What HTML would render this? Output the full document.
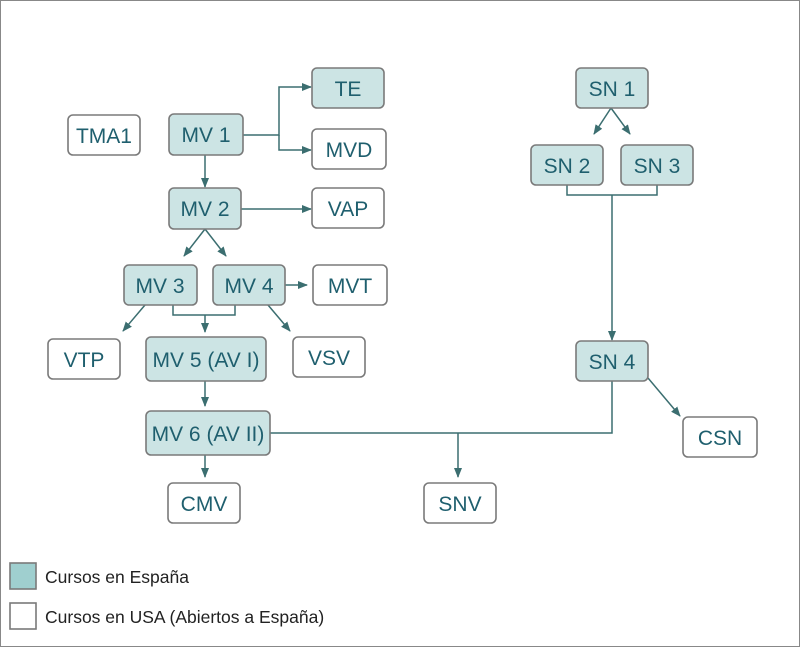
<!DOCTYPE html>
<html><head><style>
body{margin:0;width:800px;height:647px;background:#fff;overflow:hidden}
</style></head><body>
<svg width="800" height="647" xmlns="http://www.w3.org/2000/svg" style="font-family:'Liberation Sans',sans-serif">
<defs><marker id="a" markerWidth="10" markerHeight="8" refX="9" refY="4" orient="auto" markerUnits="userSpaceOnUse"><path d="M0,0L10,4L0,8z" fill="#3b6e70"/></marker></defs>
<rect x="0.5" y="0.5" width="799" height="646" fill="#fff" stroke="#888"/>
<g stroke="#3b6e70" stroke-width="1.5" fill="none">
<path d="M243,135H279V87H311" marker-end="url(#a)"/>
<path d="M279,135V150H311" marker-end="url(#a)"/>
<path d="M205,155V187" marker-end="url(#a)"/>
<path d="M241,209H311" marker-end="url(#a)"/>
<path d="M205,229L184,256" marker-end="url(#a)"/>
<path d="M205,229L226,256" marker-end="url(#a)"/>
<path d="M145,305L123,331" marker-end="url(#a)"/>
<path d="M173,305V315H235V305" />
<path d="M205,315V332" marker-end="url(#a)"/>
<path d="M268,305L290,331" marker-end="url(#a)"/>
<path d="M285,285H307" marker-end="url(#a)"/>
<path d="M205,381V406" marker-end="url(#a)"/>
<path d="M270,433H612V381"/>
<path d="M458,433V477" marker-end="url(#a)"/>
<path d="M205,455V477" marker-end="url(#a)"/>
<path d="M611,108L594,134" marker-end="url(#a)"/>
<path d="M611,108L630,134" marker-end="url(#a)"/>
<path d="M567,185V195H657V185" />
<path d="M612,195V340" marker-end="url(#a)"/>
<path d="M648,378L680,416" marker-end="url(#a)"/>
</g>
<g stroke="#7a7a7a" stroke-width="1.6">
<rect x="68" y="115" width="72" height="40" rx="5" fill="#fff"/>
<rect x="169" y="114" width="74" height="41" rx="5" fill="#cce4e4"/>
<rect x="312" y="68" width="72" height="40" rx="5" fill="#cce4e4"/>
<rect x="312" y="129" width="74" height="40" rx="5" fill="#fff"/>
<rect x="169" y="188" width="72" height="41" rx="5" fill="#cce4e4"/>
<rect x="312" y="188" width="72" height="40" rx="5" fill="#fff"/>
<rect x="124" y="265" width="73" height="40" rx="5" fill="#cce4e4"/>
<rect x="213" y="265" width="72" height="40" rx="5" fill="#cce4e4"/>
<rect x="313" y="265" width="74" height="40" rx="5" fill="#fff"/>
<rect x="48" y="339" width="72" height="40" rx="5" fill="#fff"/>
<rect x="146" y="337" width="120" height="44" rx="5" fill="#cce4e4"/>
<rect x="293" y="337" width="72" height="40" rx="5" fill="#fff"/>
<rect x="146" y="411" width="124" height="44" rx="5" fill="#cce4e4"/>
<rect x="168" y="483" width="72" height="40" rx="5" fill="#fff"/>
<rect x="424" y="483" width="72" height="40" rx="5" fill="#fff"/>
<rect x="576" y="68" width="72" height="40" rx="5" fill="#cce4e4"/>
<rect x="531" y="145" width="72" height="40" rx="5" fill="#cce4e4"/>
<rect x="621" y="145" width="72" height="40" rx="5" fill="#cce4e4"/>
<rect x="576" y="341" width="72" height="40" rx="5" fill="#cce4e4"/>
<rect x="683" y="417" width="74" height="40" rx="5" fill="#fff"/>
<rect x="10" y="563" width="26" height="26" fill="#9fcfcf"/>
<rect x="10" y="603" width="26" height="26" fill="#fff"/>
</g>
<g fill="#1f5f6e" font-size="21" text-anchor="middle">
<text x="104" y="143">TMA1</text>
<text x="206" y="142">MV 1</text>
<text x="348" y="96">TE</text>
<text x="349" y="157">MVD</text>
<text x="205" y="216">MV 2</text>
<text x="348" y="216">VAP</text>
<text x="160" y="293">MV 3</text>
<text x="249" y="293">MV 4</text>
<text x="350" y="293">MVT</text>
<text x="84" y="367">VTP</text>
<text x="206" y="367">MV 5 (AV I)</text>
<text x="329" y="365">VSV</text>
<text x="208" y="441">MV 6 (AV II)</text>
<text x="204" y="511">CMV</text>
<text x="460" y="511">SNV</text>
<text x="612" y="96">SN 1</text>
<text x="567" y="173">SN 2</text>
<text x="657" y="173">SN 3</text>
<text x="612" y="369">SN 4</text>
<text x="720" y="445">CSN</text>
</g>
<g fill="#222" font-size="17.5">
<text x="45" y="583">Cursos en España</text>
<text x="45" y="623">Cursos en USA (Abiertos a España)</text>
</g>
</svg>
</body></html>
